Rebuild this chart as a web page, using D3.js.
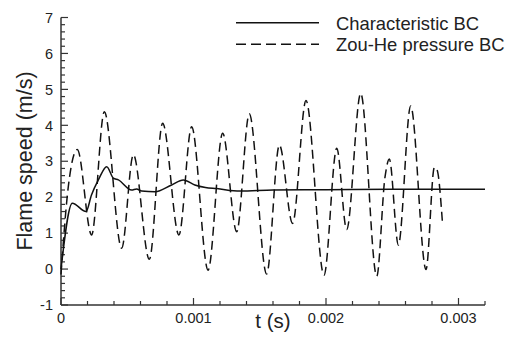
<!DOCTYPE html>
<html><head><meta charset="utf-8">
<script src="https://cdn.jsdelivr.net/npm/d3@7"></script>
<style>body{margin:0;background:#fff}svg{display:block}text{font-family:"Liberation Sans",Arial,sans-serif;fill:#222}</style>
</head><body><svg id="c" width="508" height="343"></svg>
<script>
const xTicks = [0, 0.001, 0.002, 0.003];
const yTicks = [-1, 0, 1, 2, 3, 4, 5, 6, 7];
const seriesNames = ["Characteristic BC", "Zou-He pressure BC"];
const charT = [0, 0.0000855, 0.000189, 0.00023, 0.000282, 0.000345, 0.000395, 0.000433, 0.000533, 0.00057, 0.000609, 0.00071, 0.000835, 0.000923, 0.00101, 0.00109, 0.001175, 0.00135, 0.0016, 0.002, 0.0025, 0.0032];
const charV = [0, 1.83, 1.6, 2.06, 2.48, 2.85, 2.53, 2.48, 2.2, 2.23, 2.17, 2.15, 2.34, 2.48, 2.34, 2.27, 2.24, 2.17, 2.2, 2.21, 2.22, 2.22];
const zhT = [0, 0.000055, 0.000123, 0.000231, 0.000327, 0.000458, 0.000546, 0.000667, 0.000767, 0.00089, 0.000986, 0.00111, 0.00122, 0.001326, 0.001421, 0.001552, 0.001648, 0.001748, 0.001849, 0.001985, 0.002081, 0.002156, 0.002262, 0.002383, 0.002445, 0.002478, 0.002546, 0.002639, 0.002755, 0.002818, 0.002838, 0.00288];
const zhV = [-0.15, 2.29, 3.33, 0.95, 4.38, 0.58, 3.18, 0.27, 4.06, 0.95, 3.96, -0.03, 3.78, 1.04, 4.32, -0.14, 3.45, 1.27, 4.69, -0.17, 3.36, 1.1, 4.89, -0.2, 2.55, 3.06, 0.67, 4.54, -0.01, 2.83, 2.76, 1.23];

const svg = d3.select("#c");
const x = d3.scaleLinear().domain([0, 0.0032]).range([61, 485]);
const y = d3.scaleLinear().domain([-1, 7]).range([305, 17.5]);
const axisCol = "#333";

// y axis minor/major ticks
const yMinor = d3.range(-1, 7.0001, 0.2);
svg.append("g").selectAll("line").data(yMinor).join("line")
  .attr("x1", x(0)).attr("x2", d => x(0) + (Math.abs(d - Math.round(d)) < 1e-6 ? 7 : 4))
  .attr("y1", d => y(d)).attr("y2", d => y(d)).attr("stroke", axisCol).attr("stroke-width", 1.2);
const xMinor = d3.range(0, 0.00320001, 0.0002);
svg.append("g").selectAll("line").data(xMinor).join("line")
  .attr("x1", d => x(d)).attr("x2", d => x(d))
  .attr("y1", y(-1)).attr("y2", d => y(-1) - (Math.abs(d * 1000 - Math.round(d * 1000)) < 1e-6 ? 7 : 4))
  .attr("stroke", axisCol).attr("stroke-width", 1.2);
svg.append("line").attr("x1", x(0)).attr("x2", x(0)).attr("y1", y(7)).attr("y2", y(-1)).attr("stroke", axisCol).attr("stroke-width", 1.5);
svg.append("line").attr("x1", x(0)).attr("x2", x(0.0032)).attr("y1", y(-1)).attr("y2", y(-1)).attr("stroke", axisCol).attr("stroke-width", 1.5);

svg.append("g").selectAll("text").data(yTicks).join("text")
  .attr("x", 53).attr("y", d => y(d)).attr("dy", "0.36em").attr("text-anchor", "end")
  .attr("font-size", 14.5).text(d => d);
svg.append("g").selectAll("text").data(xTicks).join("text")
  .attr("x", d => x(d)).attr("y", 322.5).attr("text-anchor", "middle")
  .attr("font-size", 14.5).text(d => d === 0 ? "0" : d3.format(".3f")(d));

svg.append("text").attr("transform", "translate(32,161) rotate(-90)").attr("text-anchor", "middle")
  .attr("font-size", 21.5).text("Flame speed (m/s)");
svg.append("text").attr("x", 273).attr("y", 328).attr("text-anchor", "middle")
  .attr("font-size", 20.5).text("t (s)");

const lineC = d3.line().x((d, i) => x(charT[i])).y(d => y(d)).curve(d3.curveMonotoneX);
const lineZ = d3.line().x((d, i) => x(zhT[i])).y(d => y(d)).curve(d3.curveMonotoneX);
svg.append("path").attr("d", lineZ(zhV)).attr("fill", "none").attr("stroke", "#111").attr("stroke-width", 1.5).attr("stroke-dasharray", "9,5");
svg.append("path").attr("d", lineC(charV)).attr("fill", "none").attr("stroke", "#111").attr("stroke-width", 1.5);

// legend
const leg = svg.append("g");
[0, 1].forEach(i => {
  const ly = i === 0 ? 22.7 : 44.3;
  leg.append("line").attr("x1", 236).attr("x2", 319).attr("y1", ly).attr("y2", ly)
    .attr("stroke", "#111").attr("stroke-width", 1.5).attr("stroke-dasharray", i === 0 ? null : "10,5");
  leg.append("text").attr("x", 336).attr("y", ly + 6.8).attr("font-size", 18.4).text(seriesNames[i]);
});
</script></body></html>
